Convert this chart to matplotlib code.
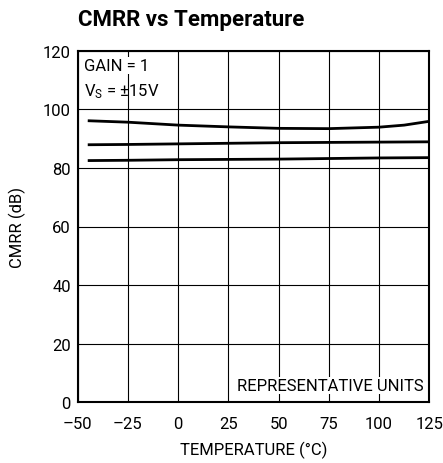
import matplotlib
matplotlib.use("Agg")
import matplotlib.pyplot as plt
import numpy as np

plt.rcParams['font.family'] = ['Roboto', 'DejaVu Sans']

# Data
temp = [-45, -25, 0, 25, 50, 75, 100, 112.5, 125]
cmrr_unit1 = [96.1, 95.6, 94.6, 94.0, 93.5, 93.4, 93.9, 94.6, 95.9]
cmrr_unit2 = [87.9, 88.0, 88.2, 88.4, 88.6, 88.7, 88.8, 88.85, 88.9]
cmrr_unit3 = [82.5, 82.6, 82.8, 82.9, 83.0, 83.2, 83.4, 83.45, 83.5]

xticks = [-50, -25, 0, 25, 50, 75, 100, 125]
xticklabels = ['\u201350', '\u201325', '0', '25', '50', '75', '100', '125']
yticks = [0, 20, 40, 60, 80, 100, 120]

fig = plt.figure(figsize=(4.43, 4.64), dpi=100)
W, H = 443, 464
ax = fig.add_axes([77.7 / W, 1 - 403.3 / H, (429.3 - 77.7) / W, (403.3 - 51.7) / H])

for y in (cmrr_unit1, cmrr_unit2, cmrr_unit3):
    ax.plot(temp, y, color='black', lw=2.0, solid_capstyle='butt',
            solid_joinstyle='round', zorder=3)

ax.set_xlim(-50, 125)
ax.set_ylim(0, 120)
ax.set_xticks(xticks)
ax.set_xticklabels(xticklabels)
ax.set_yticks(yticks)
ax.grid(True, color='black', lw=0.8)
ax.tick_params(length=0, labelsize=12, pad=5)
ax.tick_params(axis='x', pad=10)
for s in ax.spines.values():
    s.set_linewidth(1.5)

ax.set_xlabel('TEMPERATURE (\u00b0C)', fontsize=12, labelpad=7)
ax.set_ylabel('CMRR (dB)', fontsize=12, labelpad=12)

ax.text(-47, 117.5, 'GAIN = 1', fontsize=12, va='top', ha='left', zorder=4,
        bbox=dict(facecolor='white', edgecolor='none', pad=1.0))
ax.text(-47, 109.5, '$\\mathregular{V_S}$ = \u00b115V', fontsize=12, va='top', ha='left', zorder=4)
ax.text(122, 3.2, 'REPRESENTATIVE UNITS', fontsize=12, va='bottom', ha='right', zorder=4,
        bbox=dict(facecolor='white', edgecolor='none', pad=1.0))

fig.text(78 / W, 1 - 20 / H, 'CMRR vs Temperature', fontsize=16, fontweight='bold',
         va='center', ha='left')

fig.savefig('out.png', dpi=100)
